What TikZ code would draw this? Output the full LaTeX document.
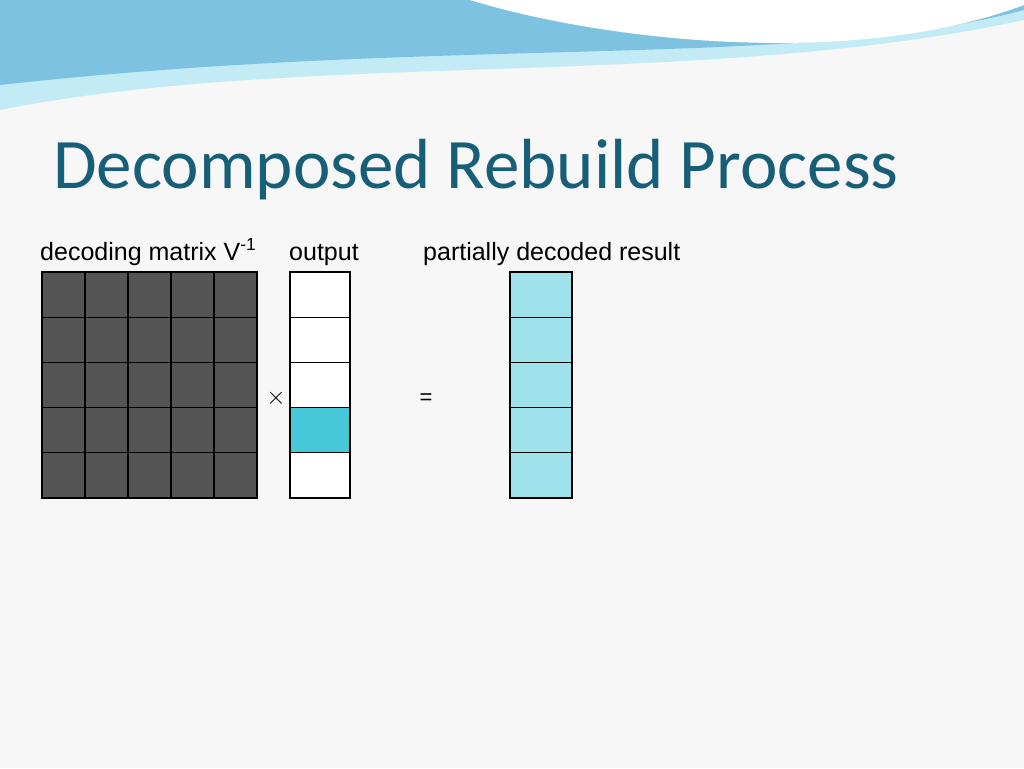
\documentclass[tikz,border=0pt]{standalone}
\usepackage{fontspec}
\setmainfont{Liberation Sans}
\newfontfamily\titlefont{Carlito}
\definecolor{titleblue}{RGB}{23,94,120}
\definecolor{darkcell}{RGB}{85,85,85}
\definecolor{hicell}{RGB}{70,200,216}
\definecolor{lightcell}{RGB}{160,226,236}
\definecolor{wave}{RGB}{125,195,225}
\definecolor{wavelight}{RGB}{195,235,245}
\begin{document}
\begin{tikzpicture}[x=1pt,y=-1pt]
  \tikzstyle{every node}+=[inner sep=0pt]
  \tikzset{cell/.style={draw=black,line width=1.2pt},
    lbl/.style={anchor=base west, font=\fontsize{25}{25}\selectfont}}
  \useasboundingbox (0,0) rectangle (1024,768);
  \fill [black!3] (0,0) rectangle (1024,768);
  % header waves
  \fill [wavelight] (0,0) -- (1024,0) -- (1024,20) .. controls (700,90) and (300,50) .. (0,110) -- cycle;
  \fill [wave] (0,0) -- (1024,0) -- (1024,10) .. controls (800,70) and (450,35) .. (0,85) -- cycle;
  \fill [white] (470,0) .. controls (600,40) and (850,70) .. (1024,5) -- (1024,0) -- cycle;
  \node [anchor=base west, text=titleblue, font=\titlefont\fontsize{71}{71}\selectfont] (title) at (53,188) {Decomposed Rebuild Process};
  % decoding matrix
  \foreach \r in {0,...,4}
    \foreach \c in {0,...,4}
      \draw [cell, fill=darkcell] (42+43*\c,272+45.2*\r) rectangle ++(43,45.2);
  % output column
  \foreach \r/\col in {0/white,1/white,2/white,3/hicell,4/white}
    \draw [cell, fill=\col] (290,272+45.2*\r) rectangle ++(60,45.2);
  % result column
  \foreach \r in {0,...,4}
    \draw [cell, fill=lightcell] (510,272+45.2*\r) rectangle ++(62,45.2);
  \node [lbl] (lblm) at (40,260) {decoding matrix V\textsuperscript{-1}};
  \node [lbl] (lblo) at (289,260) {output};
  \node [lbl] (lblr) at (423,260) {partially decoded result};
  \node [font=\fontsize{26}{26}\selectfont] (times) at (276,398) {$\times$};
  \node [font=\fontsize{22}{22}\selectfont] (eq) at (426,399) {=};
\end{tikzpicture}
\end{document}
